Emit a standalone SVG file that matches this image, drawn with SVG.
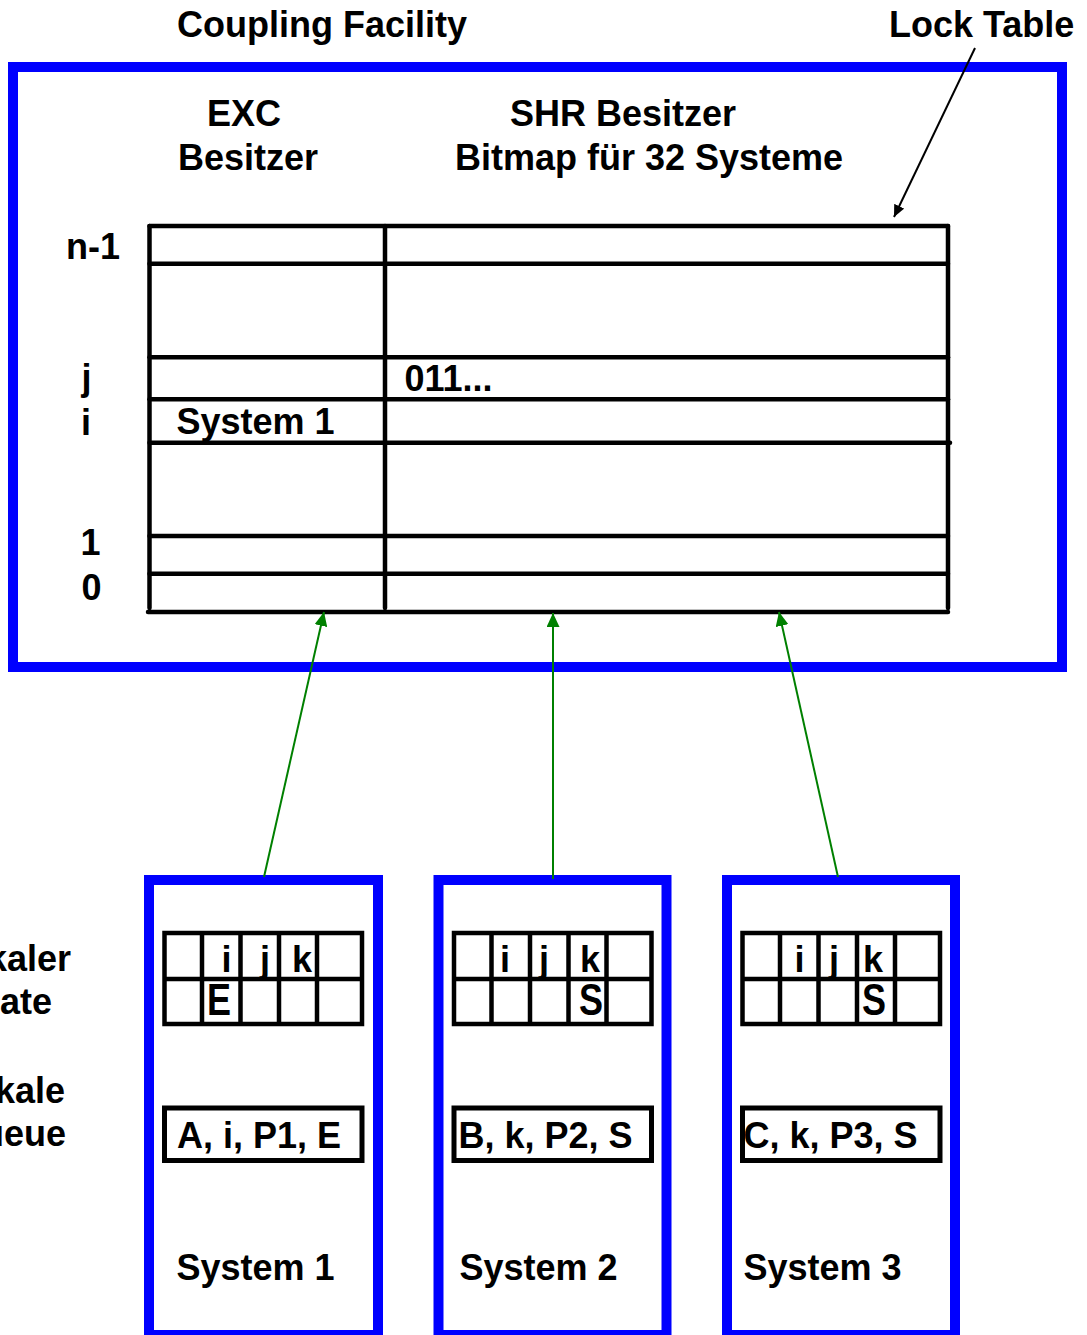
<svg xmlns="http://www.w3.org/2000/svg" width="1087" height="1335" viewBox="0 0 1087 1335">
  <style>
    text { font-family: "Liberation Sans", Arial, sans-serif; font-weight: bold; font-size: 36px; fill: #000; }
    .frame { fill: none; stroke: #0000ff; stroke-width: 10; }
    .grid { stroke: #000; stroke-width: 4.5; stroke-linecap: round; fill: none; }
    .cell { fill: none; stroke: #000; stroke-width: 4.5; }
    .entry { fill: none; stroke: #000; stroke-width: 5; }
    .link { stroke: #008000; stroke-width: 2; fill: none; }
    .pointer { stroke: #000; stroke-width: 2; fill: none; }
  </style>
  <defs>
    <marker id="head-green" markerUnits="userSpaceOnUse" markerWidth="14" markerHeight="13" refX="14" refY="6.5" orient="auto">
      <path d="M0,0 L14,6.5 L0,13 z" fill="#008000"/>
    </marker>
    <marker id="head-black" markerUnits="userSpaceOnUse" markerWidth="12" markerHeight="11" refX="12" refY="5.5" orient="auto">
      <path d="M0,0 L12,5.5 L0,11 z" fill="#000"/>
    </marker>
    <!-- one local system: lock state grid + queue entry frame -->
    <g id="lock-grid">
      <rect class="cell" x="15.5" y="933" width="197.5" height="91"/>
      <line class="cell" x1="15.5" y1="979" x2="213" y2="979"/>
      <line class="cell" x1="53" y1="933" x2="53" y2="1024"/>
      <line class="cell" x1="91.5" y1="933" x2="91.5" y2="1024"/>
      <line class="cell" x1="130" y1="933" x2="130" y2="1024"/>
      <line class="cell" x1="168" y1="933" x2="168" y2="1024"/>
      <rect class="entry" x="15.5" y="1108" width="197.5" height="52.5"/>
    </g>
  </defs>

  <!-- titles -->
  <text x="177" y="37">Coupling Facility</text>

  <g id="coupling-facility">
    <rect class="frame" x="13" y="67" width="1049" height="600"/>
    <text x="207" y="126">EXC</text>
    <text x="178" y="170">Besitzer</text>
    <text x="510" y="126">SHR Besitzer</text>
    <text x="455" y="170">Bitmap für 32 Systeme</text>

    <!-- row indices -->
    <text x="66" y="259">n-1</text>
    <text x="81.5" y="390">j</text>
    <text x="81" y="435">i</text>
    <text x="80.5" y="555">1</text>
    <text x="81.5" y="599.5">0</text>

    <!-- lock table -->
    <g id="lock-table">
      <line class="grid" x1="149.5" y1="226" x2="948" y2="226"/>
      <line class="grid" x1="149.5" y1="263.7" x2="948" y2="263.7"/>
      <line class="grid" x1="149.5" y1="357.3" x2="948" y2="357.3"/>
      <line class="grid" x1="149.5" y1="399.3" x2="948" y2="399.3"/>
      <line class="grid" x1="149.5" y1="442.8" x2="950" y2="442.8"/>
      <line class="grid" x1="149.5" y1="536" x2="948" y2="536"/>
      <line class="grid" x1="149.5" y1="573.7" x2="948" y2="573.7"/>
      <line class="grid" x1="148" y1="612" x2="948" y2="612"/>
      <line class="grid" x1="149.5" y1="226" x2="149.5" y2="608"/>
      <line class="grid" x1="385" y1="226" x2="385" y2="608"/>
      <line class="grid" x1="948" y1="226" x2="948" y2="608"/>
      <text x="404.5" y="391">011...</text>
      <text x="176.5" y="434">System 1</text>
    </g>
  </g>

  <text x="889" y="37">Lock Table</text>

  <!-- side labels -->
  <g id="side-labels">
    <text x="-13" y="971">kaler</text>
    <text x="0" y="1014">ate</text>
    <text x="-5" y="1103">kale</text>
    <text x="-18" y="1146">ueue</text>
  </g>

  <!-- local systems -->
  <g id="system-1">
    <rect class="frame" x="149" y="880" width="229" height="455"/>
    <use href="#lock-grid" x="149"/>
    <text x="226.5" y="972" text-anchor="middle">i</text>
    <text x="265" y="972" text-anchor="middle">j</text>
    <text x="302" y="972" text-anchor="middle">k</text>
    <text transform="translate(219,1015) scale(1,1.25)" text-anchor="middle">E</text>
    <text x="177" y="1148">A, i, P1, E</text>
    <text x="176.5" y="1280">System 1</text>
  </g>

  <g id="system-2">
    <rect class="frame" x="438.5" y="880" width="228" height="455"/>
    <use href="#lock-grid" x="438.5"/>
    <text x="505" y="972" text-anchor="middle">i</text>
    <text x="544" y="972" text-anchor="middle">j</text>
    <text x="590" y="972" text-anchor="middle">k</text>
    <text transform="translate(591,1015) scale(1,1.25)" text-anchor="middle">S</text>
    <text x="458.5" y="1148">B, k, P2, S</text>
    <text x="459.5" y="1280">System 2</text>
  </g>

  <g id="system-3">
    <rect class="frame" x="727" y="880" width="228" height="455"/>
    <use href="#lock-grid" x="727"/>
    <text x="799.5" y="972" text-anchor="middle">i</text>
    <text x="834" y="972" text-anchor="middle">j</text>
    <text x="873" y="972" text-anchor="middle">k</text>
    <text transform="translate(874,1015) scale(1,1.25)" text-anchor="middle">S</text>
    <text x="743.5" y="1148">C, k, P3, S</text>
    <text x="743.5" y="1280">System 3</text>
  </g>

  <!-- connectors -->
  <g id="connectors">
    <line class="pointer" x1="975" y1="48" x2="894" y2="217" marker-end="url(#head-black)"/>
    <line class="link" x1="264" y1="877" x2="324" y2="612" marker-end="url(#head-green)"/>
    <line class="link" x1="553" y1="879" x2="553" y2="613" marker-end="url(#head-green)"/>
    <line class="link" x1="838" y1="877" x2="779" y2="612" marker-end="url(#head-green)"/>
  </g>
</svg>
